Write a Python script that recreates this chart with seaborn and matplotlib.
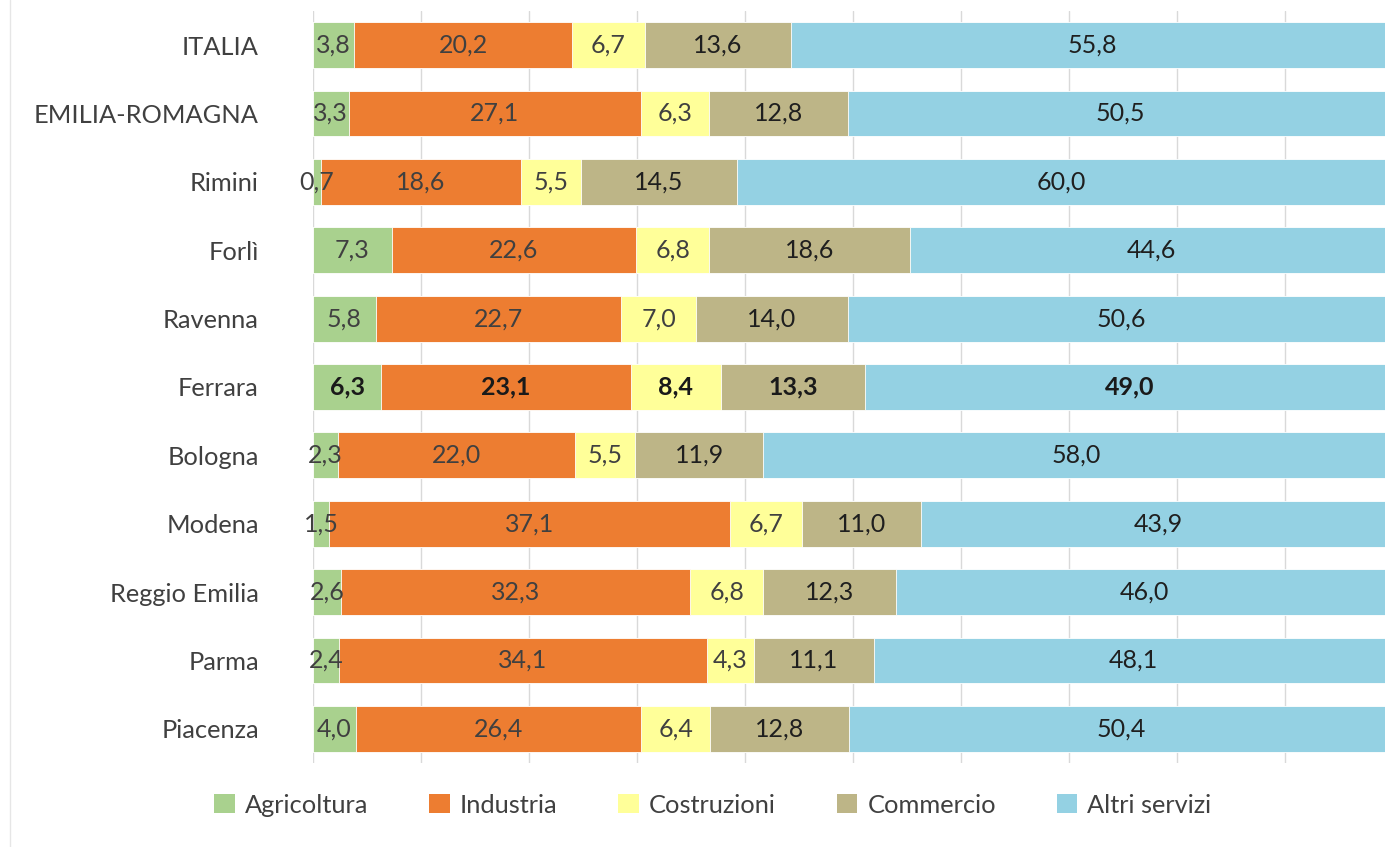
import numpy as np
import matplotlib
matplotlib.use("Agg")
import matplotlib.pyplot as plt
from matplotlib.patches import Patch
from matplotlib.lines import Line2D
import seaborn as sns

# dati (% sul totale)
province = ["ITALIA", "EMILIA-ROMAGNA", "Rimini", "Forlì", "Ravenna", "Ferrara",
            "Bologna", "Modena", "Reggio Emilia", "Parma", "Piacenza"]
settori = ["Agricoltura", "Industria", "Costruzioni", "Commercio", "Altri servizi"]
agricoltura = [3.8, 3.3, 0.7, 7.3, 5.8, 6.3, 2.3, 1.5, 2.6, 2.4, 4.0]
industria = [20.2, 27.1, 18.6, 22.6, 22.7, 23.1, 22.0, 37.1, 32.3, 34.1, 26.4]
costruzioni = [6.7, 6.3, 5.5, 6.8, 7.0, 8.4, 5.5, 6.7, 6.8, 4.3, 6.4]
commercio = [13.6, 12.8, 14.5, 18.6, 14.0, 13.3, 11.9, 11.0, 12.3, 11.1, 12.8]
altri_servizi = [55.8, 50.5, 60.0, 44.6, 50.6, 49.0, 58.0, 43.9, 46.0, 48.1, 50.4]

colori = ["#A9D18E", "#ED7D31", "#FFFF99", "#BDB587", "#94D1E3"]
col_testo = ["#404040", "#404040", "#404040", "#1F1F1F", "#1F1F1F"]

sns.set_theme(style="white")
plt.rcParams["font.family"] = ["Lato", "DejaVu Sans"]

valori = np.array([agricoltura, industria, costruzioni, commercio, altri_servizi])
cumulato = valori.cumsum(axis=0)

fig = plt.figure(figsize=(13.85, 8.47), dpi=100)
ax = fig.add_axes([313 / 1385, 1 - 763 / 847, 1080 / 1385, 752 / 847])

# barre impilate: disegno i totali cumulati dal più grande al più piccolo
for i in range(len(settori) - 1, -1, -1):
    sns.barplot(x=cumulato[i], y=province, color=colori[i], orient="h",
                width=0.67, edgecolor="white", linewidth=0.6, saturation=1,
                ax=ax, zorder=3)

# etichette
for i in range(len(settori)):
    for j, p in enumerate(province):
        v = valori[i, j]
        centro = cumulato[i, j] - v / 2
        grassetto = p == "Ferrara"
        ax.text(centro, j, f"{v:.1f}".replace(".", ","), ha="center", va="center",
                fontsize=18, color="#1A1A1A" if grassetto else col_testo[i],
                fontweight="bold" if grassetto else "normal", zorder=5)

ax.set_xlim(0, 100)
ax.set_ylim(len(province) - 0.5, -0.5)
ax.set_xticks(np.arange(0, 101, 10))
ax.set_xticklabels([])
ax.grid(axis="x", color="#D9D9D9", linewidth=1, zorder=0)
ax.set_axisbelow(True)
ax.set_xlabel("")
ax.set_ylabel("")
ax.tick_params(axis="y", length=0, pad=39, labelsize=18.3, labelcolor="#404040")
for s in ax.spines.values():
    s.set_visible(False)

maniglie = [Patch(facecolor=c, edgecolor="none") for c in colori]
fig.legend(maniglie, settori, loc="center", bbox_to_anchor=(713 / 1385, 1 - 805 / 847),
           ncol=5, frameon=False, fontsize=18.3, handlelength=0.8, handleheight=0.8,
           handletextpad=0.4, columnspacing=2.4, labelcolor="#404040")

# bordo sinistro dell'area grafico
fig.add_artist(Line2D([10 / 1385, 10 / 1385], [0, 1], color="#E6E6E6", linewidth=1))

fig.savefig("out.png", dpi=100)
